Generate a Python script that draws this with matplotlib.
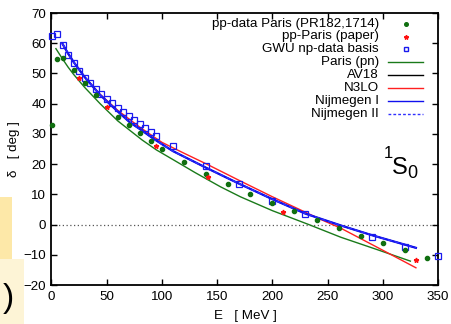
import matplotlib
matplotlib.use("Agg")
import matplotlib.pyplot as plt
from matplotlib.patches import Rectangle

plt.rcParams['font.family'] = ['Liberation Sans', 'DejaVu Sans']

# ---- data ----
gwu_E = [0.5, 5, 10, 15, 20, 25, 30, 35, 40, 45, 50, 55, 60, 65, 70, 75, 80, 85, 90, 95, 110, 140, 170, 200, 230, 290, 320, 350]
gwu_d = [62.4, 63.0, 59.4, 56.1, 53.4, 50.9, 48.6, 46.7, 45.0, 43.2, 41.7, 40.1, 38.7, 37.2, 35.8, 34.6, 33.2, 31.9, 30.6, 29.4, 26.0, 19.3, 13.3, 7.9, 3.4, -4.2, -7.3, -10.3]

pp_E = [0.5, 5, 10, 20, 30, 40, 60, 70, 80, 90, 100, 120, 140, 160, 180, 200, 220, 240, 260, 280, 300, 320, 340]
pp_d = [32.8, 54.7, 55.1, 51.0, 46.7, 42.8, 35.5, 32.8, 30.2, 27.6, 25.1, 20.7, 16.8, 13.4, 10.2, 7.2, 4.4, 1.5, -1.0, -3.7, -6.1, -8.5, -11.0]

ppp_E = [25, 50, 95, 142, 210, 330]
ppp_d = [48.6, 38.9, 26.0, 15.6, 4.1, -11.7]

paris_E = [4, 10, 15, 20, 30, 44, 60, 82, 95, 110, 130, 153, 171, 200, 233, 262, 295, 325]
paris_d = [58.2, 54.8, 52.1, 49.7, 45.4, 40.0, 34.3, 28.0, 24.7, 21.5, 17.2, 12.5, 9.2, 4.6, 0.0, -4.2, -8.3, -12.1]

nij1_E = [10, 15, 20, 30, 44, 60, 71, 80, 92, 100, 110, 140, 170, 200, 230, 262, 290, 330]
nij1_d = [59.8, 56.6, 53.8, 48.8, 42.9, 37.4, 33.8, 31.6, 28.5, 26.6, 24.3, 18.8, 13.5, 8.4, 3.6, -0.3, -3.5, -7.7]

av18_E = [10, 15, 20, 30, 44, 60, 71, 80, 92, 100, 110, 140, 170, 200, 230, 262, 290, 330]
av18_d = [59.8, 56.6, 53.8, 48.8, 42.9, 37.4, 33.8, 31.6, 28.5, 26.6, 24.3, 18.8, 13.5, 8.4, 3.6, -0.3, -3.5, -7.7]

nij2_E = [10, 15, 20, 30, 44, 60, 71, 80, 92, 100, 110, 140, 170, 200, 230, 262, 290, 330]
nij2_d = [59.8, 56.6, 53.8, 48.8, 42.9, 37.4, 33.8, 31.6, 28.5, 26.6, 24.3, 18.8, 13.5, 8.4, 3.6, -0.3, -3.5, -7.7]

n3lo_E = [10, 15, 20, 30, 44, 60, 80, 100, 120, 140, 170, 200, 245, 262, 300, 330]
n3lo_d = [59.6, 56.5, 53.8, 48.9, 43.1, 37.8, 32.2, 27.2, 23.6, 20.1, 14.6, 9.2, 1.5, -1.2, -8.5, -14.3]

xticks = [0, 50, 100, 150, 200, 250, 300, 350]
yticks = [-20, -10, 0, 10, 20, 30, 40, 50, 60, 70]

labels = ["pp-data Paris (PR182,1714)", "pp-Paris (paper)", "GWU np-data basis",
          "Paris (pn)", "AV18", "N3LO", "Nijmegen I", "Nijmegen II"]

FS = 9.6
W, H = 452, 324
fig = plt.figure(figsize=(W / 100, H / 100), dpi=100)
ax = fig.add_axes([51.5 / W, 1 - 285 / H, (438 - 51.5) / W, (285 - 13) / H])

# background yellow boxes at left edge
fig.patches.append(Rectangle((0, 1 - 263 / H), 12 / W, 66 / H, transform=fig.transFigure,
                             facecolor='#fde8a8', edgecolor='none', zorder=0))
fig.patches.append(Rectangle((0, 0), 24 / W, (324 - 259) / H, transform=fig.transFigure,
                             facecolor='#fdf4d6', edgecolor='none', zorder=0))
fig.text(8 / W, 1 - 299 / H, ")", fontsize=24, ha='center', va='center', color='black')

ax.axhline(0, color='#555555', lw=0.9, ls=(0, (1, 2)), zorder=1)

ax.plot(paris_E, paris_d, color='#1a7a1a', lw=1.0, zorder=3)
ax.plot(av18_E, av18_d, color='black', lw=1.0, zorder=3)
ax.plot(n3lo_E, n3lo_d, color='#ff2020', lw=1.0, zorder=4)
ax.plot(nij1_E, nij1_d, color='#1010ee', lw=1.6, zorder=5)
ax.plot(nij2_E, nij2_d, color='#3030ff', lw=1.0, ls=(0, (3, 2)), zorder=6)

ax.plot(gwu_E, gwu_d, ls='none', marker='s', ms=4.3, mfc='none', mec='#1a1aee', mew=0.9,
        zorder=7, clip_on=False)
ax.plot(pp_E, pp_d, ls='none', marker='o', ms=3.0, color='#106f10', zorder=8, clip_on=False)
ax.plot(ppp_E, ppp_d, ls='none', marker='*', ms=3.5, color='#ff1010', zorder=8, clip_on=False)

ax.set_xlim(0, 350)
ax.set_ylim(-20, 70)
ax.set_xticks(xticks)
ax.set_yticks(yticks)
ax.tick_params(direction='in', top=True, right=True, length=4, width=1, labelsize=FS, pad=4)
for s in ax.spines.values():
    s.set_linewidth(1.3)

ax.set_xlabel("E   [ MeV ]", fontsize=FS)
ax.xaxis.set_label_coords((245 - 51.5) / (438 - 51.5), -(316 - 285) / 272)
ax.set_ylabel("δ   [ deg ]", fontsize=FS)
ax.yaxis.set_label_coords((14 - 51.5) / (438 - 51.5), (285 - 149) / 272)
ax.xaxis.label.set_va('center')
ax.yaxis.label.set_va('center')

# 1S0 label
fig.text(384 / W, 1 - 154 / H, "1", fontsize=12, ha='left', va='center')
fig.text(392 / W, 1 - 168 / H, "S", fontsize=17, ha='left', va='center')
fig.text(407 / W, 1 - 173 / H, "0", fontsize=13, ha='left', va='center')

# manual gnuplot-style key
rows = [23.7, 36.5, 49.4, 62.3, 75.2, 88.0, 100.9, 113.8]
styles = [
    dict(kind='pt', marker='o', color='#106f10', ms=2.6),
    dict(kind='pt', marker='*', color='#ff1010', ms=3.2),
    dict(kind='sq'),
    dict(kind='ln', color='#1a7a1a', ls='-'),
    dict(kind='ln', color='black', ls='-'),
    dict(kind='ln', color='#ff2020', ls='-'),
    dict(kind='ln', color='#1010ee', ls='-'),
    dict(kind='ln', color='#3030ff', ls=(0, (2, 1.5))),
]
for lab, yy, st in zip(labels, rows, styles):
    fy = 1 - yy / H
    fig.text(379 / W, fy, lab, fontsize=FS, ha='right', va='center')
    if st['kind'] == 'ln':
        fig.add_artist(plt.Line2D([388 / W, 423 / W], [fy, fy], color=st['color'], ls=st['ls'],
                                  lw=1.0, transform=fig.transFigure))
    elif st['kind'] == 'sq':
        fig.add_artist(plt.Line2D([405.7 / W], [fy], marker='s', ms=3.5, mfc='none', mec='#1a1aee',
                                  mew=1.0, ls='none', transform=fig.transFigure))
    else:
        fig.add_artist(plt.Line2D([405.7 / W], [fy], marker=st['marker'], ms=st['ms'],
                                  color=st['color'], ls='none', transform=fig.transFigure))

fig.savefig("out.png", dpi=100)
